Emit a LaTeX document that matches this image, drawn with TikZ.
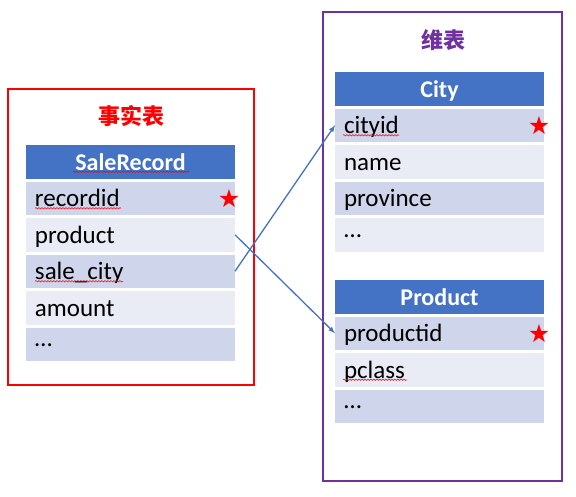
\documentclass[tikz,border=0pt]{standalone}
\usepackage{fontspec}
\setmainfont{Carlito}
\newfontfamily\cjk{Noto Sans CJK SC}
\newfontfamily\symb{DejaVu Sans}
\usepackage{tikz}
\usetikzlibrary{matrix,positioning,arrows.meta,decorations.pathmorphing}
\tikzset{>=latex}
\definecolor{hdblue}{HTML}{4472C4}
\definecolor{rowdark}{HTML}{CFD5EA}
\definecolor{rowlight}{HTML}{E9EBF5}
\definecolor{dimpurple}{HTML}{7030A0}
\newcommand{\moredots}{\raisebox{6pt}{\ldots}}

\begin{document}
\begin{tikzpicture}[x=1pt, y=-1pt, ampersand replacement=\&,
  TBL/.style={matrix of nodes, anchor=north west, inner sep=0pt, outer sep=0pt,
              nodes={fill=rowlight, minimum width=209pt, minimum height=33.5pt,
                     text width=191pt, inner xsep=9pt, inner ysep=0pt,
                     outer sep=0pt, align=left, anchor=center,
                     text height=19pt, text depth=2pt,
                     font=\fontsize{25}{28}\selectfont},
              row sep=3pt,
              every even row/.append style={nodes={fill=rowdark}},
              row 1/.append style={nodes={HD}}},
  HD/.style={fill=hdblue, text=white, align=center,
             font=\fontsize{24}{28}\selectfont\bfseries},
  TTL/.style={font=\cjk\bfseries\fontsize{22}{24}\selectfont, inner sep=0pt},
  STAR/.style={text=red, font=\symb\fontsize{25}{25}\selectfont, inner sep=0pt},
  SPELL/.style={red, line width=0.5pt, decorate,
                decoration={snake, amplitude=0.7pt, segment length=3pt}},
  ARR/.style={->, hdblue, line width=1.3pt}
]
\useasboundingbox (0,0) rectangle (576,496);

% fact table
\draw[red, line width=2pt] (8,89) rectangle (254,385);
\node (facttitle) [TTL, text=red] at (131,116) {事实表};
\matrix (fact) [TBL] at (26,145)
{
SaleRecord \\
recordid \\
product \\
sale\_city \\
amount \\
\moredots \\
};

% dimension tables
\draw[dimpurple, line width=2pt] (323,12) rectangle (562,481);
\node (dimtitle) [TTL, text=dimpurple] at (443,40) {维表};
\matrix (city) [TBL] at (335,72)
{
City \\
cityid \\
name \\
province \\
\moredots \\
};
\matrix (prod) [TBL] at (335,280)
{
Product \\
productid \\
pclass \\
\moredots \\
};

% keys
\node (factkey) [STAR] at ([xshift=-6pt]fact-2-1.east) {★};
\node (citykey) [STAR] at ([xshift=-5pt]city-2-1.east) {★};
\node (prodkey) [STAR] at ([xshift=-5pt]prod-2-1.east) {★};

% spell marks
\draw[SPELL] ([xshift=47pt,yshift=-10pt]fact-1-1.west) -- ([xshift=163pt,yshift=-10pt]fact-1-1.west);
\draw[SPELL] ([xshift=9pt,yshift=-10pt]fact-2-1.west) -- ([xshift=95pt,yshift=-10pt]fact-2-1.west);
\draw[SPELL] ([xshift=9pt,yshift=-10pt]fact-4-1.west) -- ([xshift=97pt,yshift=-10pt]fact-4-1.west);
\draw[SPELL] ([xshift=8pt,yshift=-10pt]city-2-1.west) -- ([xshift=64pt,yshift=-10pt]city-2-1.west);
\draw[SPELL] ([xshift=8pt,yshift=-10pt]prod-3-1.west) -- ([xshift=72pt,yshift=-10pt]prod-3-1.west);

% links
\draw[ARR] (fact-3-1.east) -- (prod-2-1.west);
\draw[ARR] (fact-4-1.east) -- (city-2-1.west);
\end{tikzpicture}
\end{document}
